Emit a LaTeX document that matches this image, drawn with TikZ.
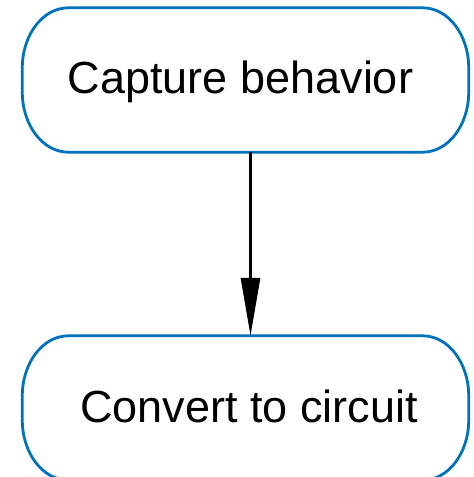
\documentclass[tikz,border=0pt]{standalone}
\usepackage{fontspec}
\setmainfont{Liberation Sans}
\usetikzlibrary{arrows.meta}
\definecolor{stepblue}{RGB}{0,114,188}
% outline of a step box with elliptical corners (rx = 46pt, ry = 60pt)
\newcommand\stepoutline[1]{%
  \draw[stepline]
    ([xshift=46pt]#1.north west) -- ([xshift=-46pt]#1.north east)
    arc[start angle=90, end angle=0, x radius=46pt, y radius=60pt]
    -- ([yshift=60pt]#1.south east)
    arc[start angle=0, end angle=-90, x radius=46pt, y radius=60pt]
    -- ([xshift=46pt]#1.south west)
    arc[start angle=270, end angle=180, x radius=46pt, y radius=60pt]
    -- ([yshift=-60pt]#1.north west)
    arc[start angle=180, end angle=90, x radius=46pt, y radius=60pt]
    -- cycle;}
\begin{document}
\begin{tikzpicture}[x=1pt,y=-1pt,
  stepbox/.style={minimum width=446pt, minimum height=144pt, inner sep=0pt},
  stepline/.style={draw=stepblue, line width=2.8pt, line join=round},
  steptext/.style={anchor=base, inner sep=0pt, font=\fontsize{45pt}{54pt}\selectfont},
  flow/.style={line width=3pt, -{Triangle[length=58pt,width=19pt]}}]
\useasboundingbox (0,0) rectangle (474,477);
\clip (0,0) rectangle (474,477);
% process steps
\node[stepbox] (cap) at (245.5,80) {};
\stepoutline{cap}
\node[steptext] (capT) at (240.5,93) {Capture behavior};
\node[stepbox] (conv) at (245.5,408) {};
\stepoutline{conv}
\node[steptext] (convT) at (249,422) {Convert to circuit};
% flow arrow
\coordinate (ax) at (250.5,0);
\draw[flow] (cap.south -| ax) -- (conv.north -| ax);
\end{tikzpicture}
\end{document}
